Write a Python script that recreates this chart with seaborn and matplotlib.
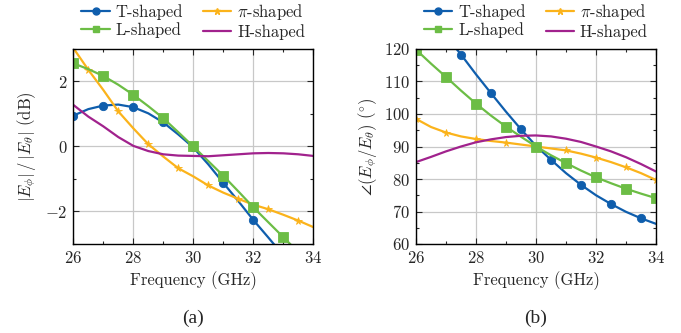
import numpy as np
import pandas as pd
import matplotlib
matplotlib.use("Agg")
import matplotlib.pyplot as plt
import seaborn as sns
from matplotlib.ticker import MultipleLocator
from matplotlib.lines import Line2D

# ---------------- data ----------------
freq = [26, 26.5, 27, 27.5, 28, 28.5, 29, 29.5, 30, 30.5, 31, 31.5, 32, 32.5, 33, 33.5, 34]

# (a) axial ratio magnitude |E_phi|/|E_theta| (dB)
t_mag = [0.95, 1.15, 1.26, 1.29, 1.21, 1.02, 0.74, 0.37, -0.03, -0.55, -1.12, -1.68, -2.26, -2.80, -3.35, -3.90, -4.45]
pi_mag = [3.03, 2.36, 1.74, 1.08, 0.56, 0.07, -0.31, -0.67, -0.92, -1.20, -1.42, -1.61, -1.79, -1.93, -2.10, -2.28, -2.48]
l_mag = [2.56, 2.38, 2.17, 1.90, 1.59, 1.24, 0.87, 0.44, 0.00, -0.45, -0.90, -1.38, -1.87, -2.33, -2.79, -3.25, -3.70]
h_mag = [1.28, 0.92, 0.62, 0.29, 0.02, -0.14, -0.24, -0.28, -0.29, -0.30, -0.27, -0.24, -0.21, -0.20, -0.21, -0.24, -0.29]

# (b) phase difference (deg)
t_ph = [135.0, 129.5, 124.0, 118.3, 112.2, 106.4, 100.7, 95.3, 90.2, 85.9, 81.8, 78.2, 75.0, 72.3, 69.9, 67.9, 66.2]
pi_ph = [98.5, 96.0, 94.3, 93.1, 92.3, 91.7, 91.2, 90.6, 90.0, 89.4, 88.8, 87.8, 86.6, 85.2, 83.6, 81.8, 79.7]
l_ph = [119.8, 115.5, 111.4, 107.2, 103.2, 99.5, 96.1, 93.0, 90.0, 87.3, 84.9, 82.6, 80.5, 78.7, 77.0, 75.5, 74.1]
h_ph = [85.2, 86.8, 88.5, 90.0, 91.3, 92.2, 92.9, 93.3, 93.4, 93.1, 92.4, 91.4, 90.0, 88.5, 86.7, 84.6, 82.3]

labels = ["T-shaped", r"$\pi$-shaped", "L-shaped", "H-shaped"]
colors = ["#0F5EAD", "#FBB31B", "#6CBD45", "#A1228D"]

# ---------------- style ----------------
sns.set_style("ticks")
plt.rcParams["font.family"] = ["cmr10", "DejaVu Serif"]
plt.rcParams["mathtext.fontset"] = "cm"
plt.rcParams["axes.formatter.use_mathtext"] = True
plt.rcParams["axes.unicode_minus"] = True

FS = 12

fig = plt.figure(figsize=(6.81, 3.33), dpi=100)
axA = fig.add_axes([73.3 / 681, 89 / 333, 240 / 681, 195 / 333])
axB = fig.add_axes([416 / 681, 89 / 333, 240 / 681, 195 / 333])


def draw(ax, series, mevery):
    df = pd.DataFrame({"f": freq})
    specs = [("o", 6.0), ("*", 5.5), ("s", 6.5), (None, 0)]
    for (vals, lab, col, (mk, ms), me) in zip(series, labels, colors, specs, mevery):
        kw = dict(color=col, linewidth=1.6, ax=ax, legend=False)
        if mk is not None:
            kw.update(marker=mk, markersize=ms, markevery=me, markeredgewidth=0.6,
                      markeredgecolor=col, markerfacecolor=col)
        sns.lineplot(x=df["f"], y=vals, **kw)
    ax.set_xlim(26, 34)
    ax.xaxis.set_major_locator(MultipleLocator(2))
    ax.xaxis.set_minor_locator(MultipleLocator(1))
    ax.grid(True, which="major", color="#c8c8c8", linewidth=0.9)
    ax.set_axisbelow(True)
    ax.tick_params(which="both", direction="in", top=True, right=True, labelsize=FS, pad=4)
    ax.tick_params(which="major", length=4, width=0.8)
    ax.tick_params(which="minor", length=2.5, width=0.8)
    for s in ax.spines.values():
        s.set_linewidth(1.0)
        s.set_color("black")
    ax.set_xlabel("Frequency (GHz)", fontsize=FS, labelpad=4)
    handles = [
        Line2D([], [], color=colors[0], lw=1.6, marker="o", ms=5),
        Line2D([], [], color=colors[2], lw=1.6, marker="s", ms=5),
        Line2D([], [], color=colors[1], lw=1.6, marker="*", ms=4.5),
        Line2D([], [], color=colors[3], lw=1.6),
    ]
    ax.legend(handles, [labels[0], labels[2], labels[1], labels[3]], ncol=2,
              loc="lower center", bbox_to_anchor=(0.5, 1.0), frameon=False,
              fontsize=FS, handlelength=1.7, columnspacing=1.2, labelspacing=0.15,
              handletextpad=0.35, borderaxespad=0.45, borderpad=0.1)


draw(axA, [t_mag, pi_mag, l_mag, h_mag], [(0, 2), (1, 2), (0, 2), None])
axA.set_ylim(-3, 3)
axA.yaxis.set_major_locator(MultipleLocator(2))
axA.yaxis.set_minor_locator(MultipleLocator(1))
axA.set_ylabel(r"$|E_\phi|\,/\,|E_\theta|$ (dB)", fontsize=FS, labelpad=5)

draw(axB, [t_ph, pi_ph, l_ph, h_ph], [(1, 2), (0, 2), (0, 2), None])
axB.set_ylim(60, 120)
axB.yaxis.set_major_locator(MultipleLocator(10))
axB.yaxis.set_minor_locator(MultipleLocator(5))
axB.set_ylabel(r"$\angle\left(E_\phi/E_\theta\right)$ ($^{\circ}$)", fontsize=FS, labelpad=4)

fig.text(193 / 681, 1 - 318 / 333, "(a)", ha="center", va="center",
         fontsize=14, family=["Liberation Serif"])
fig.text(536 / 681, 1 - 318 / 333, "(b)", ha="center", va="center",
         fontsize=14, family=["Liberation Serif"])

fig.savefig("out.png", dpi=100)
